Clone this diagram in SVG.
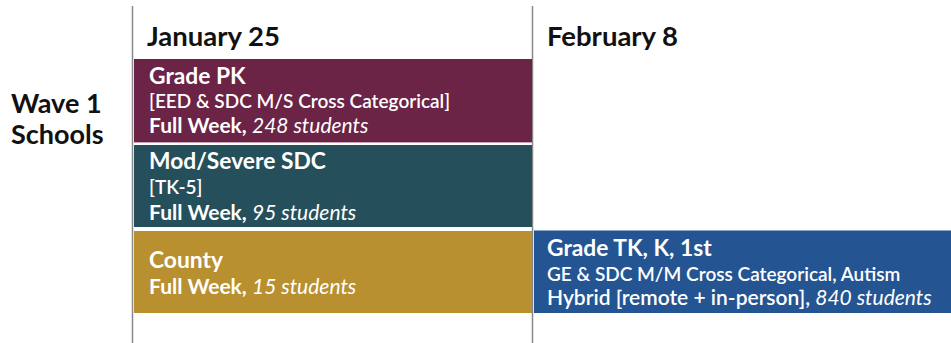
<svg xmlns="http://www.w3.org/2000/svg" width="951" height="343" viewBox="0 0 951 343">
<style>
text{font-family:Lato,"Noto Sans",sans-serif;fill:#fff}
.h{font-weight:bold;font-size:27.5px;fill:#111}
.w{font-size:27px}
.t{font-weight:bold;font-size:22.8px}
.s{font-weight:600;font-size:19px}
.f{font-weight:600;font-size:21px}
.b{font-weight:bold}
.i{font-style:italic;font-weight:normal}
.ax{stroke:#888;stroke-width:1.5}
</style>
<rect width="951" height="343" fill="#fff"/>
<g id="axes">
<line class="ax" x1="132.5" y1="6" x2="132.5" y2="343"/>
<line class="ax" x1="532.5" y1="6" x2="532.5" y2="343"/>
</g>
<g id="labels">
<text class="h w" x="11" y="113">Wave 1</text>
<text class="h w" x="11" y="144">Schools</text>
<text class="h" x="147" y="46">January 25</text>
<text class="h" x="547" y="46">February 8</text>
</g>
<g id="pk">
<rect x="134" y="59" width="398" height="83" fill="#6b2346"/>
<line x1="134" y1="142.5" x2="532" y2="142.5" stroke="#c9a3b6" stroke-width="1"/>
<text class="t" x="149" y="84">Grade PK</text>
<text class="s" x="149" y="108">[EED &amp; SDC M/S Cross Categorical]</text>
<text class="f" x="149" y="133"><tspan class="b">Full Week,</tspan> <tspan class="i">248 students</tspan></text>
</g>
<g id="sdc">
<rect x="134" y="145" width="398" height="82" fill="#264f5c"/>
<text class="t" x="149" y="169">Mod/Severe SDC</text>
<text class="s" x="149" y="194">[TK-5]</text>
<text class="f" x="149" y="220"><tspan class="b">Full Week,</tspan> <tspan class="i">95 students</tspan></text>
</g>
<g id="county">
<rect x="134" y="231" width="398" height="82" fill="#b8902f"/>
<text class="t" x="149" y="268">County</text>
<text class="f" x="149" y="294"><tspan class="b">Full Week,</tspan> <tspan class="i">15 students</tspan></text>
</g>
<g id="tk">
<rect x="534" y="231" width="417" height="82" fill="#245592"/>
<line x1="534" y1="230.5" x2="951" y2="230.5" stroke="#8aa6c8" stroke-width="1"/>
<text class="t" x="547" y="256">Grade TK, K, 1st</text>
<text class="s" x="547" y="281">GE &amp; SDC M/M Cross Categorical, Autism</text>
<text class="f" x="547" y="305">Hybrid [remote + in-person], <tspan class="i">840 students</tspan></text>
</g>
</svg>
